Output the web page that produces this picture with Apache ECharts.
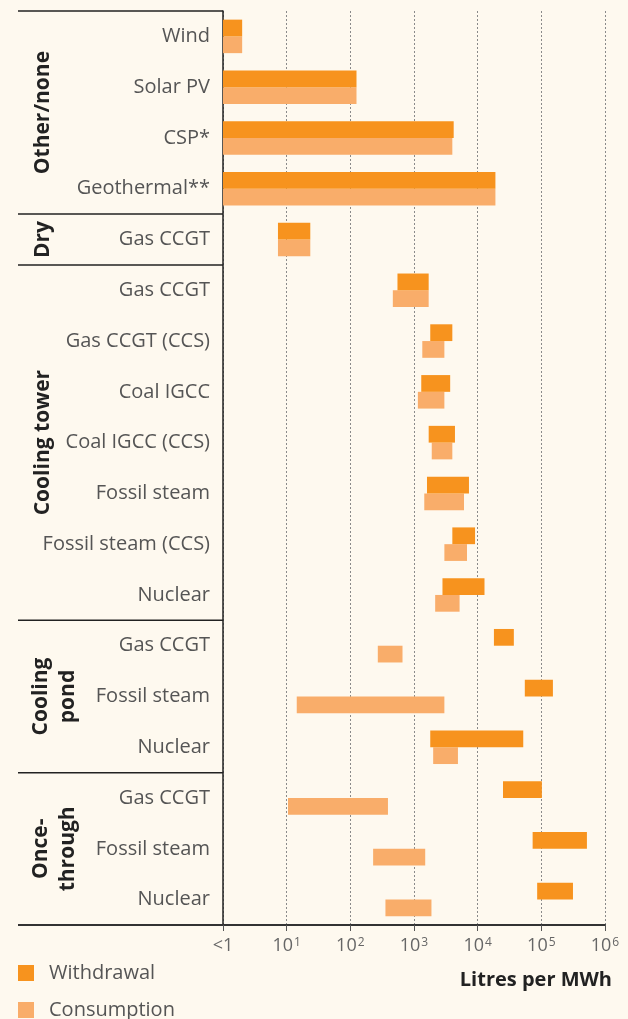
<!DOCTYPE html>
<html>
<head>
<meta charset="utf-8">
<script src="https://cdn.jsdelivr.net/npm/echarts@6/dist/echarts.min.js"></script>
<style>
html,body{margin:0;padding:0;background:#FEF9EF;}
#c{width:628px;height:1019px;}
</style>
</head>
<body>
<div id="c"></div>
<script>
var categories = ['Wind','Solar PV','CSP*','Geothermal**','Gas CCGT',
  'Gas CCGT','Gas CCGT (CCS)','Coal IGCC','Coal IGCC (CCS)','Fossil steam','Fossil steam (CCS)','Nuclear',
  'Gas CCGT','Fossil steam','Nuclear',
  'Gas CCGT','Fossil steam','Nuclear'];
var groupNames = ['Other/none','Dry','Cooling tower','Cooling\npond','Once-\nthrough'];
var groupSizes = [4,1,7,3,3];
var withdrawalMin = [1,1,1,1,7.3, 550,1800,1300,1700,1600,4000,2800, 18000,55000,1800, 25000,73000,86000];
var withdrawalMax = [2,125,4200,19000,23.5, 1700,4000,3700,4400,7300,9100,12800, 37000,152000,52000, 102000,520000,314000];
var consumptionMin = [1,1,1,1,7.3, 465,1350,1150,1900,1450,3000,2150, 270,14.4,2000, 10.5,228,356];
var consumptionMax = [2,125,4000,19000,23.5, 1700,3000,3000,4000,6100,6800,5200, 660,3000,4900, 390,1500,1880];
var tickLabels = {1:'<1',10:'10{s|1}',100:'10{s|2}',1000:'10{s|3}',10000:'10{s|4}',100000:'10{s|5}',1000000:'10{s|6}'};

var W_COLOR = '#F7931E', C_COLOR = '#F9AD6A';
var FONT = '"Open Sans", "Noto Sans", sans-serif';

function mkData(a, b){
  return categories.map(function(_, i){ return [i, a[i], b[i]]; });
}
function mkRender(isTop, color){
  return function(params, api){
    var cat = api.value(0);
    var s = api.coord([api.value(1), cat]);
    var e = api.coord([api.value(2), cat]);
    var band = api.size([0, 1])[1];
    var h = band * 0.33;
    var y = isTop ? s[1] - h : s[1];
    return {type:'rect', shape:{x:s[0], y:y, width:e[0]-s[0], height:h}, style:{fill:color}};
  };
}
function mkLegend(name, top){
  return {
    orient:'vertical', left:18, top:top, padding:0, itemWidth:16, itemHeight:16,
    icon:'rect',
    textStyle:{fontFamily:FONT, fontSize:20, color:'#555', padding:[0,0,0,10], lineHeight:18},
    data:[name]
  };
}

var chart = echarts.init(document.getElementById('c'), null, {renderer:'canvas'});
var option = {
  backgroundColor:'#FEF9EF',
  animation:false,
  grid:{left:223, right:23, top:11, bottom:94},
  legend:[mkLegend('Withdrawal', 963), mkLegend('Consumption', 1000)],
  xAxis:{
    type:'log', logBase:10, min:1, max:1000000,
    axisLine:{show:true, lineStyle:{color:'#333', width:2}},
    axisTick:{show:true, length:6, lineStyle:{color:'#555', width:1}},
    splitLine:{show:true, lineStyle:{color:'#8a8a8a', width:1, type:[2,2]}},
    axisLabel:{
      margin:12, fontFamily:FONT, fontSize:18, color:'#666',
      formatter:function(v){ return tickLabels[Math.round(v)] || ''; },
      rich:{s:{fontSize:12, color:'#666', verticalAlign:'top', padding:[0,0,0,1]}}
    },
    name:'Litres per MWh', nameLocation:'end', nameGap:7,
    nameTextStyle:{fontFamily:FONT, fontSize:20, fontWeight:'bold', color:'#222', align:'right', verticalAlign:'top', padding:[45,0,0,0]}
  },
  yAxis:{
    type:'category', data:categories, inverse:true,
    axisLine:{show:true, lineStyle:{color:'#222', width:1.5}},
    axisTick:{show:false},
    splitLine:{show:false},
    axisLabel:{margin:13, fontFamily:FONT, fontSize:20, color:'#555'}
  },
  series:[
    {name:'Withdrawal', type:'custom', renderItem:mkRender(true, W_COLOR), itemStyle:{color:W_COLOR},
     encode:{x:[1,2], y:0}, data:mkData(withdrawalMin, withdrawalMax), z:3},
    {name:'Consumption', type:'custom', renderItem:mkRender(false, C_COLOR), itemStyle:{color:C_COLOR},
     encode:{x:[1,2], y:0}, data:mkData(consumptionMin, consumptionMax), z:2}
  ]
};
chart.setOption(option);

// group brackets and labels computed from the category axis
var c0 = chart.convertToPixel({yAxisIndex:0}, 0);
var c1 = chart.convertToPixel({yAxisIndex:0}, 1);
var band = c1 - c0;
var axisX = chart.convertToPixel({xAxisIndex:0}, 1);
var elements = [];
var start = 0;
function hline(y, w){
  return {type:'line', shape:{x1:18, y1:y, x2:axisX, y2:y}, style:{stroke:w ? '#333' : '#222', lineWidth:w || 1.5}, z:10};
}
elements.push(hline(c0 - band/2));
groupSizes.forEach(function(n, gi){
  var top = c0 - band/2 + band*start;
  var bot = top + band*n;
  var last = gi === groupSizes.length - 1;
  elements.push(hline(bot, last ? 2 : 0));
  var twoLine = groupNames[gi].indexOf('\n') >= 0;
  elements.push({
    type:'text', x: twoLine ? 55 : 43, y:(top+bot)/2, rotation:Math.PI/2,
    style:{text:groupNames[gi], font:'bold 21px ' + FONT, fill:'#222', align:'center', verticalAlign:'middle', lineHeight:27},
    z:10
  });
  start += n;
});
chart.setOption({graphic:{elements:elements}});
</script>
</body>
</html>
